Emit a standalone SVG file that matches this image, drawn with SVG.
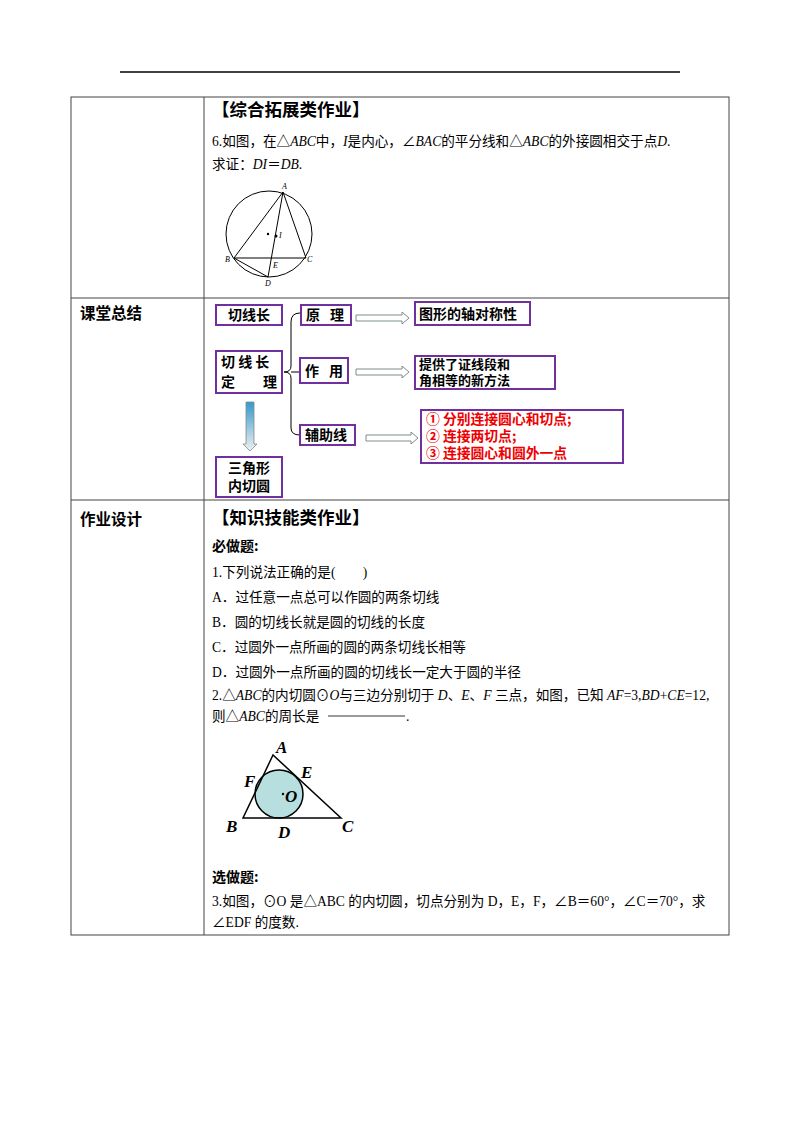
<svg xmlns="http://www.w3.org/2000/svg" width="800" height="1132" viewBox="0 0 800 1132">
<style>
text{font-family:"Liberation Serif","Noto Sans CJK SC",serif;fill:#000}
.t{font-size:13.6px}
.h{font-size:17.5px;font-weight:bold;font-family:"Noto Sans CJK SC",sans-serif}
.b{font-size:14px;font-weight:bold;font-family:"Noto Sans CJK SC",sans-serif}
.L{font-size:15.5px;font-weight:bold;font-family:"Noto Sans CJK SC",sans-serif}
.k{font-size:14px;font-weight:bold;font-family:"Noto Sans CJK SC",sans-serif}
.s{font-size:13px;font-weight:bold;font-family:"Noto Sans CJK SC",sans-serif}
.r{font-size:13.8px;font-weight:bold;font-family:"Noto Sans CJK SC",sans-serif;fill:#e00}
.box{fill:#fff;stroke:#7030a0;stroke-width:2}
.ln{stroke:#000;stroke-width:1;fill:none}
.g{font-size:8px;font-style:italic}
.G{font-size:17px;font-weight:bold;font-style:italic}
.arr{fill:#fff;stroke:#7f8c8d;stroke-width:1}
</style>
<defs><linearGradient id="vg" x1="0" y1="0" x2="0" y2="1"><stop offset="0" stop-color="#3399cc"/><stop offset="1" stop-color="#f0f0f0"/></linearGradient></defs>
<line x1="120" y1="72" x2="680" y2="72" stroke="#000" stroke-width="1.5"/>
<g id="table" fill="none" stroke="#444" stroke-width="1">
<rect x="71" y="97" width="658" height="838"/>
<line x1="204" y1="97" x2="204" y2="935"/>
<line x1="71" y1="298" x2="729" y2="298"/>
<line x1="71" y1="500" x2="729" y2="500"/>
</g>
<g id="row1">
<text class="h" x="212" y="116">【综合拓展类作业】</text>
<text class="t" x="212" y="146">6.如图，在△<tspan font-style="italic">ABC</tspan>中，<tspan font-style="italic">I</tspan>是内心，∠<tspan font-style="italic">BAC</tspan>的平分线和△<tspan font-style="italic">ABC</tspan>的外接圆相交于点<tspan font-style="italic">D</tspan>.</text>
<text class="t" x="212" y="169">求证：<tspan font-style="italic">DI</tspan>＝<tspan font-style="italic">DB</tspan>.</text>
</g>
<g id="fig1">
<circle class="ln" cx="269" cy="234" r="43"/>
<polyline class="ln" points="283,192 234,258 306,258 283,192 268,277 234,258"/>
<circle cx="276" cy="236" r="1.5"/><circle cx="268" cy="234" r="1.2"/>
<text class="g" x="282" y="189">A</text><text class="g" x="279" y="238">I</text>
<text class="g" x="225" y="262">B</text><text class="g" x="307" y="262">C</text>
<text class="g" x="273" y="268">E</text><text class="g" x="265" y="286">D</text>
</g>
<g id="row2">
<text class="L" x="80" y="319">课堂总结</text>
</g>
<g id="connectors">
<path class="ln" stroke="#7030a0" d="M300,313 Q291,313 291,322 L291,366 Q291,372 284,372 Q291,372 291,378 L291,428 Q291,435 300,435"/>
<path class="ln" stroke="#7030a0" d="M291,372 L300,372"/>
<path class="arr" d="M356,315 H402 V312 L409,318 L402,324 V321 H356 Z"/>
<path class="arr" d="M356,369 H402 V366 L409,372 L402,378 V375 H356 Z"/>
<path class="arr" d="M366,435 H411 V432 L418,438 L411,444 V441 H366 Z"/>
<path fill="url(#vg)" stroke="#7f8c8d" stroke-width="0.8" d="M246,402 H254 V444 H257 L250,451 L243,444 H246 Z"/>
</g>
<g id="n1"><rect class="box" x="216" y="305" width="66" height="20"/><text class="k" x="249" y="320" text-anchor="middle">切线长</text></g>
<g id="n2"><rect class="box" x="216" y="351" width="66" height="42"/><text class="k" x="221" y="367">切 线 长</text><text class="k" x="221" y="387">定</text><text class="k" x="263" y="387">理</text></g>
<g id="n3"><rect class="box" x="216" y="457" width="66" height="40"/><text class="k" x="249" y="473" text-anchor="middle">三角形</text><text class="k" x="249" y="491" text-anchor="middle">内切圆</text></g>
<g id="n4"><rect class="box" x="301" y="305" width="50" height="20"/><text class="k" x="306" y="320">原</text><text class="k" x="330" y="320">理</text></g>
<g id="n5"><rect class="box" x="300" y="358" width="48" height="25"/><text class="k" x="305" y="376">作</text><text class="k" x="329" y="376">用</text></g>
<g id="n6"><rect class="box" x="300" y="425" width="55" height="20"/><text class="k" x="305" y="440">辅助线</text></g>
<g id="n7"><rect class="box" x="415" y="302" width="115" height="23"/><text class="k" x="419" y="319">图形的轴对称性</text></g>
<g id="n8"><rect class="box" x="415" y="356" width="140" height="33"/><text class="s" x="419" y="369">提供了证线段和</text><text class="s" x="419" y="385">角相等的新方法</text></g>
<g id="n9"><rect class="box" x="421" y="410" width="202" height="53"/><text class="r" x="426" y="424">①  分别连接圆心和切点;</text><text class="r" x="426" y="441">②  连接两切点;</text><text class="r" x="426" y="458">③  连接圆心和圆外一点</text></g>
<g id="row3">
<text class="L" x="80" y="525">作业设计</text>
<text class="h" x="212" y="524">【知识技能类作业】</text>
<text class="b" x="212" y="551">必做题:</text>
<text class="t" x="212" y="577">1.下列说法正确的是(　　)</text>
<text class="t" x="212" y="602">A．过任意一点总可以作圆的两条切线</text>
<text class="t" x="212" y="627">B．圆的切线长就是圆的切线的长度</text>
<text class="t" x="212" y="652">C．过圆外一点所画的圆的两条切线长相等</text>
<text class="t" x="212" y="677">D．过圆外一点所画的圆的切线长一定大于圆的半径</text>
<text class="t" x="212" y="700">2.△<tspan font-style="italic">ABC</tspan>的内切圆⊙<tspan font-style="italic">O</tspan>与三边分别切于 <tspan font-style="italic">D</tspan>、<tspan font-style="italic">E</tspan>、<tspan font-style="italic">F</tspan> 三点，如图，已知 <tspan font-style="italic">AF</tspan>=3,<tspan font-style="italic">BD</tspan>+<tspan font-style="italic">CE</tspan>=12,</text>
<text class="t" x="212" y="721">则△<tspan font-style="italic">ABC</tspan>的周长是</text>
<line x1="328" y1="716" x2="405" y2="716" stroke="#000" stroke-width="0.8"/>
<text class="t" x="406" y="721">.</text>
<text class="b" x="212" y="882">选做题:</text>
<text class="t" x="212" y="906">3.如图，⊙O 是△ABC 的内切圆，切点分别为 D，E，F，∠B＝60°，∠C＝70°，求</text>
<text class="t" x="212" y="927">∠EDF 的度数.</text>
</g>
<g id="fig2">
<circle cx="279" cy="794" r="24" fill="#b7dfe0" stroke="#000" stroke-width="1.5"/>
<polygon points="273,755 243,818 341,818" fill="none" stroke="#000" stroke-width="1.5"/>
<circle cx="283" cy="794" r="1.2"/>
<text class="G" x="276" y="753">A</text><text class="G" x="244" y="787">F</text><text class="G" x="301" y="778">E</text>
<text class="G" x="285" y="802">O</text><text class="G" x="226" y="832">B</text><text class="G" x="278" y="838">D</text><text class="G" x="342" y="832">C</text>
</g>
</svg>
